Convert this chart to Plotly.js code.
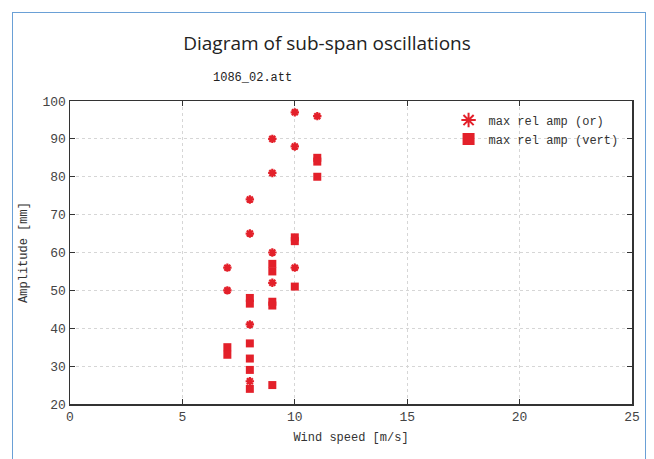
<!DOCTYPE html>
<html>
<head>
<meta charset="utf-8">
<script src="https://cdn.plot.ly/plotly-3.0.1.min.js"></script>
<style>
  html, body { margin: 0; padding: 0; background: #ffffff; }
  #frame { position: absolute; left: 12px; top: 12px; width: 632px; height: 460px;
           border-left: 1.5px solid #6aa0d6; border-top: 1.5px solid #6aa0d6; border-right: 1.5px solid #6aa0d6; }
  #chart { position: absolute; left: 0; top: 0; width: 654px; height: 459px; }
</style>
</head>
<body>
<div id="frame"></div>
<div id="chart"></div>
<script>
// Data
const orWind = [10, 11, 9, 10, 9, 8, 8, 9, 7, 10, 9, 7, 8, 8];
const orAmp  = [97, 96, 90, 88, 81, 74, 65, 60, 56, 56, 52, 50, 41, 26];
const vertWind = [11, 11, 11, 10, 10, 9, 9, 10, 8, 8, 9, 9, 7, 7, 8, 8, 8, 8, 9];
const vertAmp  = [85, 84, 80, 64, 63, 57, 55, 51, 48, 46.5, 47, 46, 35, 33, 36, 32, 29, 24, 25];
const xTicks = [0, 5, 10, 15, 20, 25];
const yTicks = [20, 30, 40, 50, 60, 70, 80, 90, 100];

const mono = "Liberation Mono, DejaVu Sans Mono, monospace";
const red = "#e3202a";

const traces = [
  {
    x: orWind, y: orAmp, type: "scatter", mode: "markers", name: "max rel amp (or)",
    marker: { symbol: "asterisk-open", size: 7, color: red, line: { color: red, width: 2.2 } }
  },
  {
    x: vertWind, y: vertAmp, type: "scatter", mode: "markers", name: "max rel amp (vert)",
    marker: { symbol: "square", size: 8, color: red, line: { width: 0 } }
  }
];

const axisCommon = {
  showline: true, mirror: "ticks", linecolor: "#333333", linewidth: 1.5,
  ticks: "inside", ticklen: 5, tickwidth: 1, tickcolor: "#333333",
  showgrid: true, gridcolor: "#d6d6d6", griddash: "dot", gridwidth: 1,
  zeroline: false, tickfont: { family: mono, size: 13, color: "#444444" }
};

const layout = {
  width: 654, height: 459,
  paper_bgcolor: "rgba(0,0,0,0)", plot_bgcolor: "rgba(0,0,0,0)",
  margin: { l: 70, r: 22, t: 101, b: 55 },
  title: {
    text: "Diagram of sub-span oscillations",
    font: { family: "Open Sans, Noto Sans, sans-serif", size: 19, color: "#222222" },
    x: 0.5, xanchor: "center", y: 0.905, yanchor: "middle", yref: "container"
  },
  xaxis: Object.assign({}, axisCommon, {
    range: [0, 25], tickvals: xTicks, ticktext: xTicks.map(String),
    title: { text: "Wind speed [m/s]", font: { family: mono, size: 12, color: "#333333" }, standoff: 8 }
  }),
  yaxis: Object.assign({}, axisCommon, {
    range: [20, 100], tickvals: yTicks, ticktext: yTicks.map(String),
    title: { text: "Amplitude [mm]", font: { family: mono, size: 12, color: "#333333" }, standoff: 12 }
  }),
  showlegend: true,
  legend: {
    x: 0.985, y: 0.985, xanchor: "right", yanchor: "top",
    bgcolor: "rgba(0,0,0,0)", borderwidth: 0,
    font: { family: mono, size: 12, color: "#333333" },
    tracegroupgap: 0, itemsizing: "constant"
  },
  annotations: [
    { text: "1086_02.att", xref: "paper", yref: "paper", x: 0.324, y: 1.076,
      xanchor: "center", yanchor: "middle", showarrow: false,
      font: { family: mono, size: 12, color: "#222222" } }
  ]
};

Plotly.newPlot("chart", traces, layout, { displayModeBar: false, staticPlot: true });
</script>
</body>
</html>
